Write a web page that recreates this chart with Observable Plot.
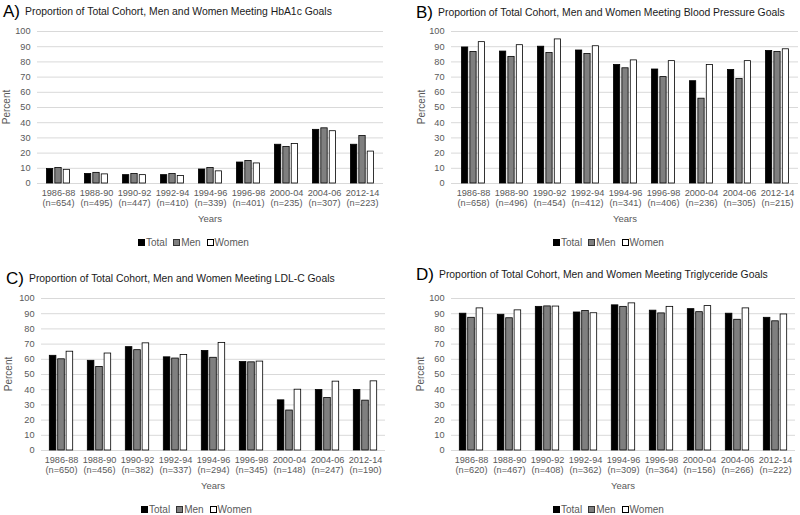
<!DOCTYPE html>
<html>
<head>
<meta charset="utf-8">
<script src="https://cdn.jsdelivr.net/npm/d3@7"></script>
<script src="https://cdn.jsdelivr.net/npm/@observablehq/plot@0.6"></script>
<style>
  body { margin: 0; background: #fff; }
  #wrap { position: relative; width: 800px; height: 515px; background: #fff; font-family: "Liberation Sans", Arial, sans-serif; overflow: hidden; }
  .panel { position: absolute; }
  .title { position: absolute; white-space: nowrap; color: #1a1a1a; font-size: 10.4px; line-height: 1; }
  .title b { font-weight: normal; font-size: 17px; color: #000; margin-right: 5px; vertical-align: -2px; }
  .xlab { position: absolute; font-size: 9.5px; color: #595959; transform: translate(-50%, -50%); white-space: nowrap; }
  .ylab { position: absolute; font-size: 10px; color: #595959; transform: translate(-50%, -50%) rotate(-90deg); white-space: nowrap; }
  .legend { position: absolute; font-size: 10px; color: #595959; white-space: nowrap; transform: translateY(-50%); line-height: 1; }
  .legend span.sw { display: inline-block; width: 5px; height: 5px; border: 0.8px solid #000; margin-right: 1px; vertical-align: 0px; }
  .legend span.item { margin-right: 6px; }
</style>
</head>
<body>
<div id="wrap"></div>
<script>
// ---- data ----
const categories = ["1986-88","1988-90","1990-92","1992-94","1994-96","1996-98","2000-04","2004-06","2012-14"];
const seriesNames = ["Total","Men","Women"];
const yTickValues = [0,10,20,30,40,50,60,70,80,90,100];

const nA = [654,495,447,410,339,401,235,307,223];
const nB = [658,496,454,412,341,406,236,305,215];
const nC = [650,456,382,337,294,345,148,247,190];
const nD = [620,467,408,362,309,364,156,266,222];

const hba1cTotal = [9.5,6.3,5.5,5.5,9.2,13.8,25.5,35.3,25.5];
const hba1cMen   = [10.2,7.0,6.2,6.2,10.2,14.8,24.0,36.3,31.2];
const hba1cWomen = [9.0,6.0,5.5,5.0,8.0,13.2,26.0,34.4,21.0];

const bpTotal = [89.5,86.8,90.0,87.5,78.0,75.0,67.3,74.7,87.2];
const bpMen   = [86.5,83.3,85.8,85.2,75.8,70.0,55.8,68.8,86.5];
const bpWomen = [93.0,91.0,94.8,90.3,81.0,80.5,78.0,80.5,88.3];

const ldlTotal = [62.3,59.0,68.0,61.3,65.5,58.2,33.0,39.8,39.8];
const ldlMen   = [60.0,55.0,66.0,60.5,61.0,58.0,26.3,34.5,32.8];
const ldlWomen = [65.0,63.8,70.5,62.8,70.8,58.5,40.0,45.3,45.5];

const tgTotal = [90.0,89.3,94.5,90.8,95.5,92.0,93.0,90.0,87.3];
const tgMen   = [87.3,87.0,94.8,91.8,94.5,90.2,91.0,86.0,85.0];
const tgWomen = [93.5,92.2,94.7,90.3,96.8,94.5,95.0,93.5,89.5];

const titles = {
  A: "Proportion of Total Cohort, Men and Women Meeting HbA1c Goals",
  B: "Proportion of Total Cohort, Men and Women Meeting Blood Pressure Goals",
  C: "Proportion of Total Cohort, Men and Women Meeting LDL-C Goals",
  D: "Proportion of Total Cohort, Men and Women Meeting Triglyceride Goals"
};

// ---- styles ----
const fills = ["#000000", "#7f7f7f", "#ffffff"];
const FONT = '"Liberation Sans", Arial, sans-serif';

function makePanel({vals, n, ml, mr}) {
  const W = 400, H = 230;
  const step = (W - ml - mr) / categories.length;
  const barW = 6.8, gap = 1.6;
  const groupW = 3 * barW + 2 * gap;
  const off = (step - groupW) / 2;
  const nMap = new Map(categories.map((c, i) => [c, n[i]]));
  const bars = seriesNames.map((s, si) => {
    const rows = categories.map((c, i) => ({cat: c, value: vals[si][i]}));
    const il = off + si * (barW + gap);
    return Plot.barY(rows, {
      x: "cat", y: "value", fill: fills[si], stroke: "#000", strokeWidth: 0.8,
      insetLeft: il, insetRight: step - il - barW
    });
  });
  return Plot.plot({
    width: W, height: H,
    marginTop: 31, marginBottom: 47, marginLeft: ml, marginRight: mr,
    style: {fontFamily: FONT, fontSize: "9px", color: "#595959", background: "transparent", overflow: "visible"},
    x: {domain: categories, padding: 0, label: null},
    y: {domain: [0, 100], label: null},
    marks: [
      Plot.ruleY(yTickValues, {stroke: "#d9d9d9", strokeWidth: 1}),
      ...bars,
      Plot.axisX({tickSize: 0, tickPadding: 5, label: null, fill: "#595959", fontSize: 9.2,
        tickFormat: d => `${d}\n(n=${nMap.get(d)})`, lineHeight: 1.1}),
      Plot.axisY({ticks: yTickValues, tickSize: 0, tickPadding: 7, label: null, fill: "#595959", fontSize: 9.2})
    ]
  });
}

const wrap = document.getElementById("wrap");
function add(el, left, top) {
  el.classList.add("panel");
  el.style.left = left + "px"; el.style.top = top + "px";
  wrap.appendChild(el);
}
function addDiv(cls, html, left, top) {
  const d = document.createElement("div");
  d.className = cls; d.innerHTML = html;
  d.style.left = left + "px"; d.style.top = top + "px";
  wrap.appendChild(d);
}
function legendHTML() {
  return seriesNames.map((s, i) =>
    `<span class="item"><span class="sw" style="background:${fills[i]};${i===1?'border-color:#333':''}"></span>${s}</span>`
  ).join("");
}

const panels = [
  {key: "A", vals: [hba1cTotal, hba1cMen, hba1cWomen], n: nA, ml: 37, mr: 17, left: 0, top: 0, tx: 3, ty: 3, lx: 138, cx: 210, px: 6},
  {key: "B", vals: [bpTotal, bpMen, bpWomen], n: nB, ml: 51, mr: 2, left: 400, top: 0, tx: 416, ty: 4, lx: 553, cx: 625, px: 421},
  {key: "C", vals: [ldlTotal, ldlMen, ldlWomen], n: nC, ml: 41, mr: 15, left: 0, top: 267, tx: 6, ty: 270, lx: 141, cx: 213, px: 8},
  {key: "D", vals: [tgTotal, tgMen, tgWomen], n: nD, ml: 51, mr: 5, left: 400, top: 267, tx: 416, ty: 266, lx: 553, cx: 623, px: 420}
];

for (const p of panels) {
  add(makePanel(p), p.left, p.top);
  addDiv("title", `<b>${p.key})</b>${titles[p.key]}`, p.tx, p.ty);
  addDiv("xlab", "Years", p.cx, p.top + 218);
  addDiv("ylab", "Percent", p.px, p.top + 107);
  addDiv("legend", legendHTML(), p.lx, p.top + 243);
}
</script>
</body>
</html>
